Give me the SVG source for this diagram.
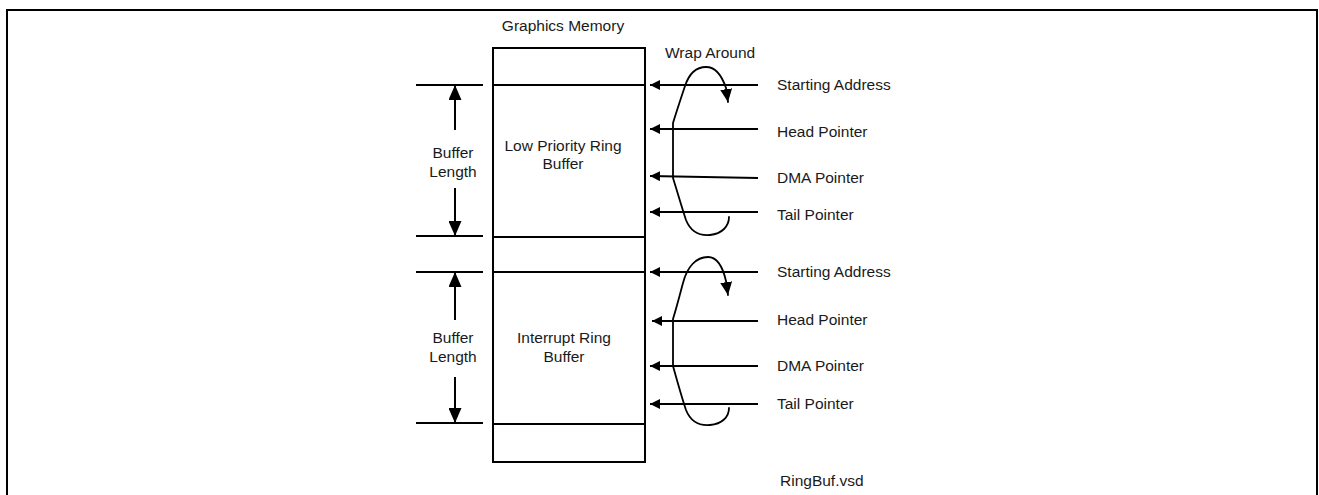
<svg xmlns="http://www.w3.org/2000/svg" width="1319" height="495" viewBox="0 0 1319 495">
<defs>
<style>
.ln{stroke:#000;stroke-width:2;fill:none}
.cv{stroke:#000;stroke-width:1.8;fill:none;stroke-linejoin:round;stroke-linecap:round}
.t{font-family:"Liberation Sans",Arial,sans-serif;font-size:15.5px;fill:#1a1a1a}
.c{text-anchor:middle}
</style>
<marker id="ah" viewBox="0 0 10 10" refX="10" refY="5" markerWidth="10" markerHeight="10" markerUnits="userSpaceOnUse" orient="auto">
<path d="M0,0 L10,5 L0,10 Z" fill="#000"/>
</marker>
<marker id="bh" viewBox="0 0 15 13" refX="15" refY="6.5" markerWidth="15" markerHeight="13" markerUnits="userSpaceOnUse" orient="auto">
<path d="M0,0 L15,6.5 L0,13 Z" fill="#000"/>
</marker>
<marker id="ch" viewBox="0 0 13 12" refX="13" refY="6" markerWidth="13" markerHeight="12" markerUnits="userSpaceOnUse" orient="auto">
<path d="M0,0 L13,6 L0,12 Z" fill="#000"/>
</marker>
</defs>
<rect width="1319" height="495" fill="#fff"/>
<g id="frame">
<path class="ln" d="M7,495 L7,10 L1317,10 L1317,495" stroke-width="3"/>
</g>
<g id="memory">
<rect class="ln" x="493" y="48" width="152" height="414"/>
<line class="ln" x1="493" y1="85" x2="645" y2="85"/>
<line class="ln" x1="493" y1="237" x2="645" y2="237"/>
<line class="ln" x1="493" y1="272" x2="645" y2="272"/>
<line class="ln" x1="493" y1="424" x2="645" y2="424"/>
<text class="t c" x="563" y="31">Graphics Memory</text>
</g>
<g id="lowpri">
<text class="t c" x="563" y="151">Low Priority Ring</text>
<text class="t c" x="563" y="169">Buffer</text>
</g>
<g id="interrupt">
<text class="t c" x="564" y="343">Interrupt Ring</text>
<text class="t c" x="564" y="362">Buffer</text>
</g>
<g id="len1">
<line class="ln" x1="416" y1="85" x2="483" y2="85"/>
<line class="ln" x1="416" y1="236" x2="483" y2="236"/>
<text class="t c" x="453" y="158">Buffer</text>
<text class="t c" x="453" y="177">Length</text>
</g>
<g id="len2">
<line class="ln" x1="416" y1="272" x2="483" y2="272"/>
<line class="ln" x1="416" y1="423" x2="483" y2="423"/>
<text class="t c" x="453" y="343">Buffer</text>
<text class="t c" x="453" y="362">Length</text>
</g>
<g id="labels1">
<text class="t" x="665" y="58">Wrap Around</text>
<text class="t" x="777" y="90">Starting Address</text>
<text class="t" x="777" y="137">Head Pointer</text>
<text class="t" x="777" y="183">DMA Pointer</text>
<text class="t" x="777" y="220">Tail Pointer</text>
</g>
<g id="labels2">
<text class="t" x="777" y="277">Starting Address</text>
<text class="t" x="777" y="325">Head Pointer</text>
<text class="t" x="777" y="371">DMA Pointer</text>
<text class="t" x="777" y="409">Tail Pointer</text>
</g>
<text class="t" x="780" y="486">RingBuf.vsd</text>
<g id="connectors">
<line class="ln" x1="455" y1="130" x2="455" y2="85" marker-end="url(#bh)"/>
<line class="ln" x1="455" y1="188" x2="455" y2="236" marker-end="url(#bh)"/>
<line class="ln" x1="455" y1="320" x2="455" y2="272" marker-end="url(#bh)"/>
<line class="ln" x1="455" y1="377" x2="455" y2="423" marker-end="url(#bh)"/>
<line class="ln" x1="758" y1="85" x2="650" y2="85" marker-end="url(#ah)"/>
<line class="ln" x1="758" y1="129" x2="650" y2="129" marker-end="url(#ah)"/>
<line class="ln" x1="758" y1="178" x2="650" y2="176" marker-end="url(#ah)"/>
<line class="ln" x1="758" y1="212" x2="650" y2="212" marker-end="url(#ah)"/>
<line class="ln" x1="758" y1="272" x2="650" y2="272" marker-end="url(#ah)"/>
<line class="ln" x1="758" y1="321" x2="652" y2="321" marker-end="url(#ah)"/>
<line class="ln" x1="758" y1="366" x2="650" y2="366" marker-end="url(#ah)"/>
<line class="ln" x1="758" y1="404" x2="650" y2="404" marker-end="url(#ah)"/>
<path class="cv" d="M729,217 C729,226 722,234 710,235 C698,236 690,230 686,220 C682,208 678,194 673,178 L673,123 C677,110 681,98 685,86 C689,74 696,67 706,67 C716,67 722,76 726,88 L728,102" marker-end="url(#ch)"/>
<path class="cv" d="M729,408 C729,417 722,424 710,425 C698,426 690,420 686,410 C682,398 678,384 673,366 L673,319 C677,306 680,294 683,283 C687,267 696,257 708,257 C718,257 723,268 726,281 L728,295" marker-end="url(#ch)"/>
</g>
</svg>
